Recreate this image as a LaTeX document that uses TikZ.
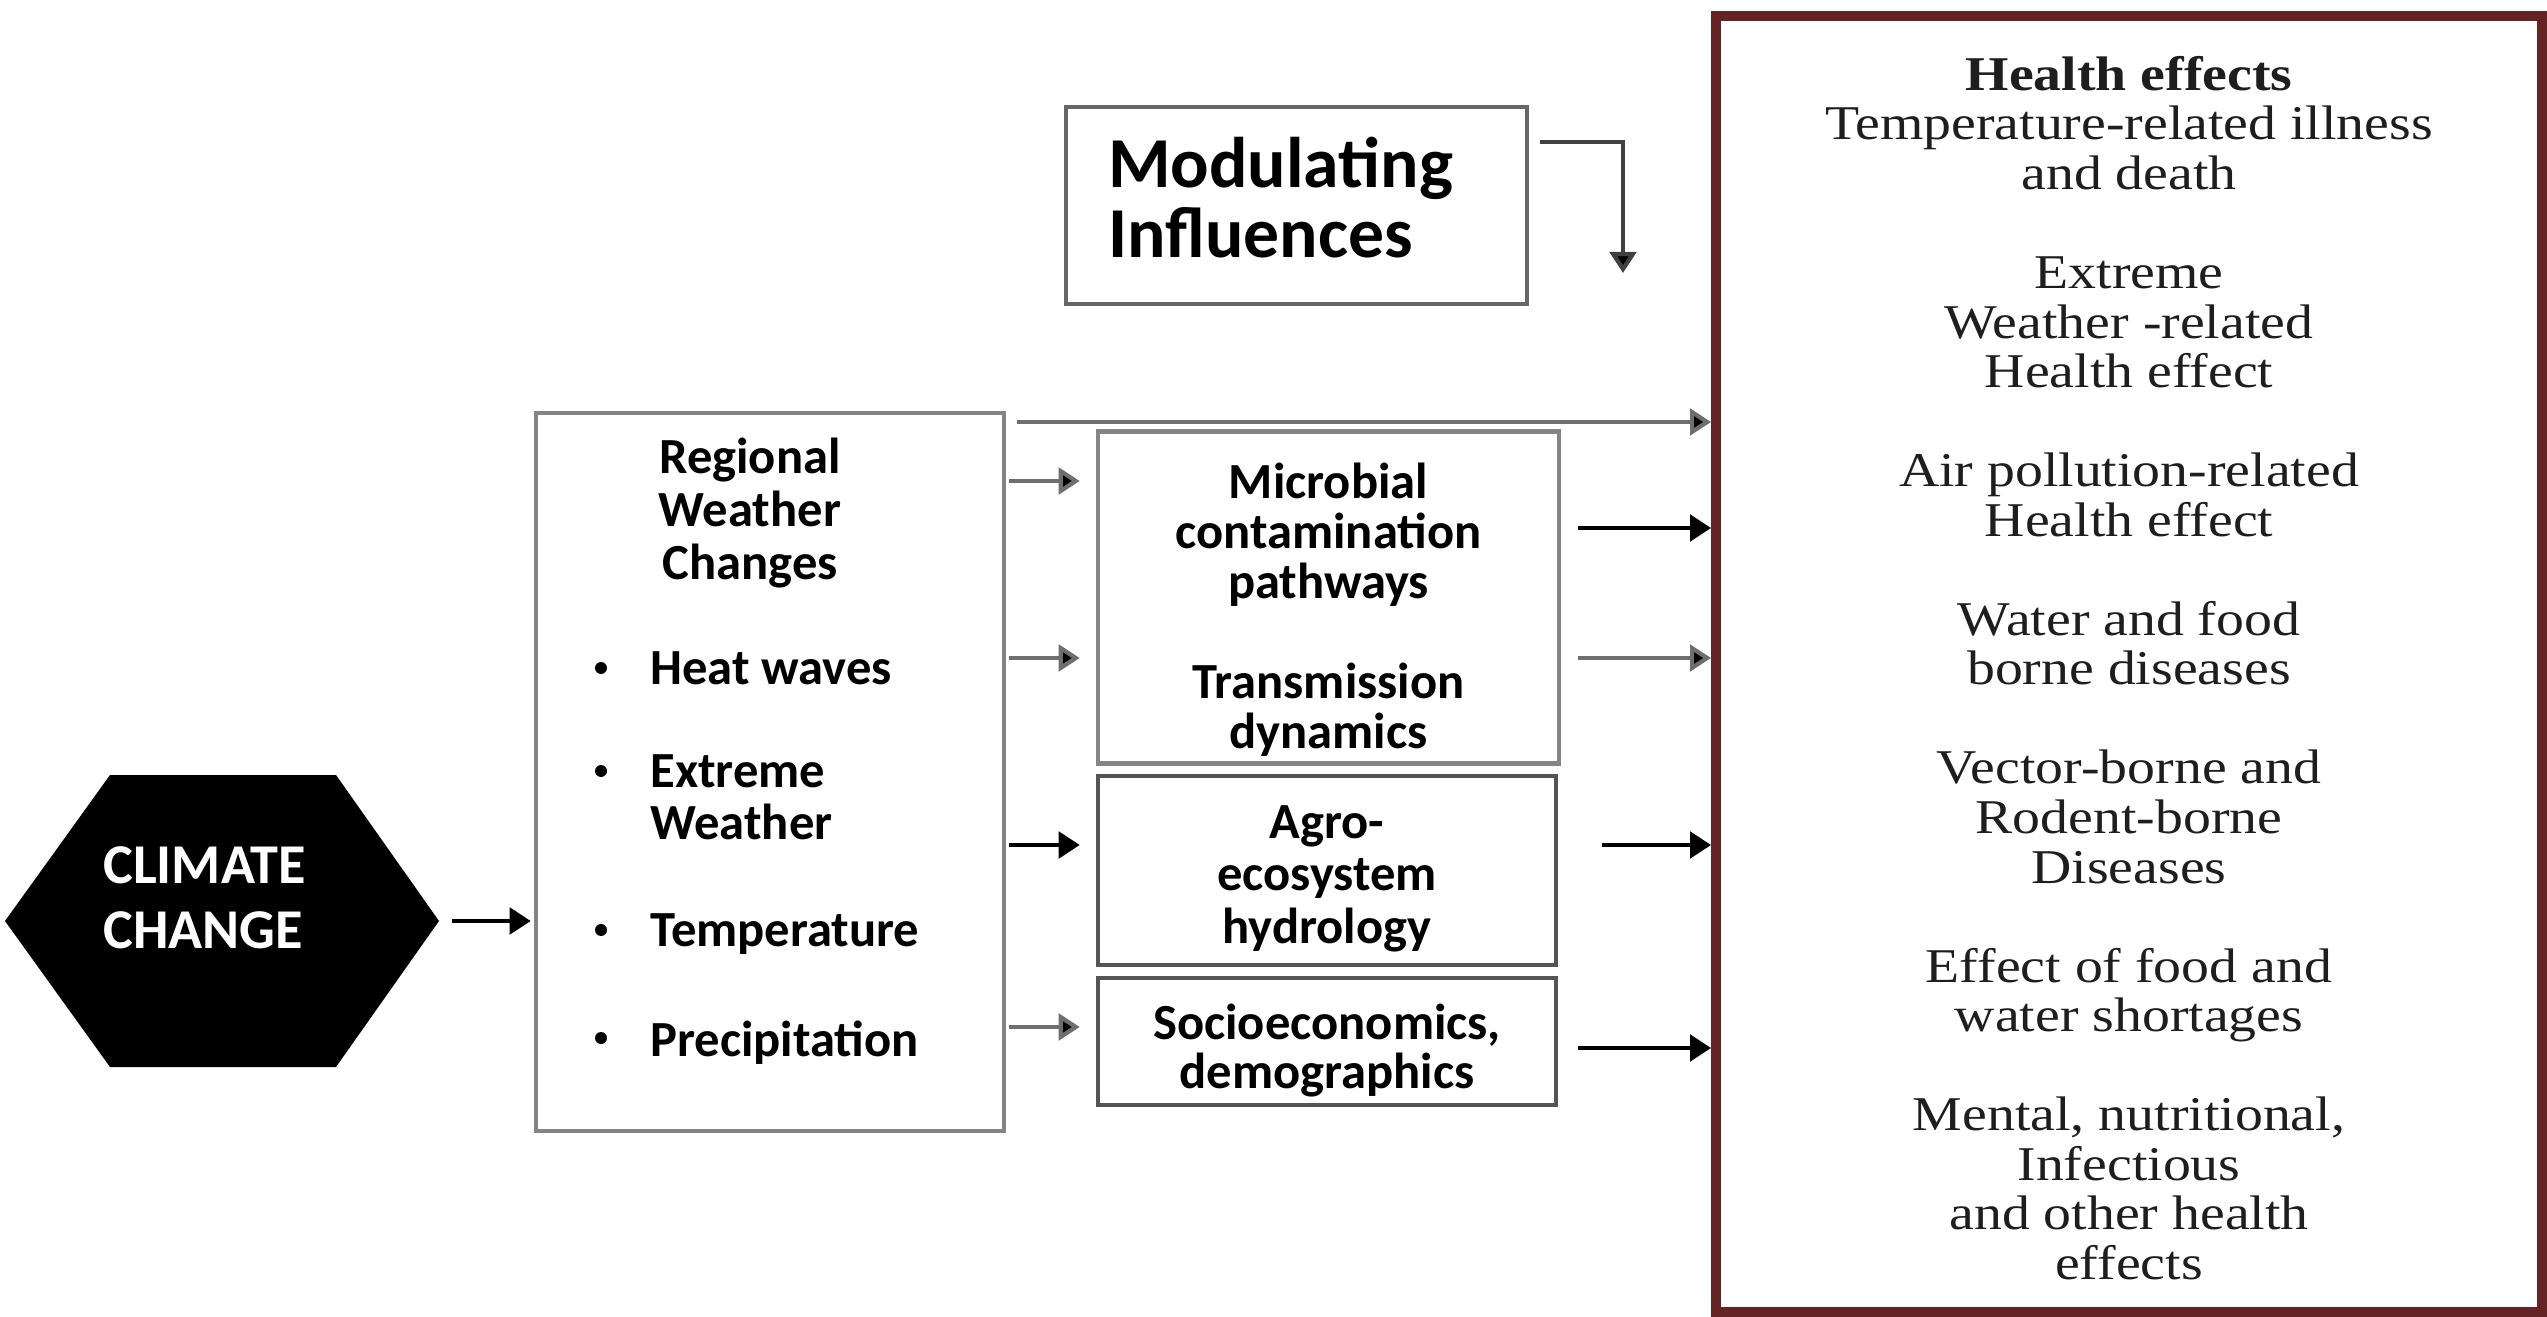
\documentclass[tikz,border=0pt]{standalone}
\usepackage{fontspec}
\usetikzlibrary{arrows.meta,calc}
\newfontfamily\carlito{Carlito}
\newfontfamily\hserif[FakeStretch=1.15]{Liberation Serif}
\definecolor{hred}{HTML}{632423}
\definecolor{bgray}{HTML}{858585}
\definecolor{mgray}{HTML}{666666}
\definecolor{dgray}{HTML}{555555}
\definecolor{agray}{HTML}{6E6E6E}
\definecolor{htext}{HTML}{1E1E1E}
\begin{document}
\begin{tikzpicture}[x=0.02cm,y=-0.02cm,
  sans/.style={font=\carlito\bfseries\fontsize{28.8pt}{29.9pt}\selectfont},
  msans/.style={font=\carlito\bfseries\fontsize{28.8pt}{28.5pt}\selectfont},
  ssans/.style={font=\carlito\bfseries\fontsize{28.8pt}{28pt}\selectfont},
  box/.style={draw=#1,line width=2.6pt,inner sep=0pt,align=center},
  box/.default=bgray,
  arr/.style={line width=2.4pt,draw=#1,-{Triangle[length=12pt,width=15pt,fill=black]}},
  arr/.default=black]
\useasboundingbox (0,0) rectangle (2547,1317);

% climate change hexagon
\fill[black] (5,921) -- (110,775) -- (336,775) -- (439,921) -- (336,1067) -- (110,1067) -- cycle;
\coordinate (hexR) at (439,921);
\node[anchor=west,text=white,align=left,inner sep=0pt,
      font=\carlito\bfseries\fontsize{32pt}{37pt}\selectfont] (cc) at (103,903) {\strut CLIMATE\\CHANGE\strut};

% regional weather changes box
\node[box,minimum width=9.36cm,minimum height=14.36cm] (reg) at (770,772) {};
\node[sans,align=center,inner sep=0pt] (regT) at (750,516) {\strut Regional\\Weather\\Changes\strut};
\node[sans,anchor=west,inner sep=0pt] (b1) at (650,674) {\strut Heat waves\strut};
\node[sans,anchor=west,inner sep=0pt,align=left] (b2) at (650,803) {\strut Extreme\\Weather\strut};
\node[sans,anchor=west,inner sep=0pt] (b3) at (650,936) {\strut Temperature\strut};
\node[sans,anchor=west,inner sep=0pt] (b4) at (650,1046) {\strut Precipitation\strut};
\fill (601,668) circle (6);
\fill (601,771) circle (6);
\fill (601,930) circle (6);
\fill (601,1038) circle (6);

% middle boxes
\node[box,msans,minimum width=9.22cm,minimum height=6.62cm] (mic) at (1328.5,597.5)
  {\rule{0pt}{38.2pt}Microbial\\contamination\\pathways\\~\\Transmission\\dynamics\strut};
\node[box=dgray,sans,minimum width=9.16cm,minimum height=3.78cm] (agro) at (1327,870.5)
  {\rule{0pt}{32.3pt}Agro-\\ecosystem\\hydrology\strut};
\node[box=dgray,ssans,minimum width=9.16cm,minimum height=2.54cm] (soc) at (1327,1041.5)
  {\rule{0pt}{34.4pt}Socioeconomics,\\demographics\strut};

% modulating influences
\node[box=mgray,align=left,inner xsep=0.84cm,text width=7.54cm,minimum height=3.94cm,
      font=\carlito\bfseries\fontsize{40.8pt}{39.8pt}\selectfont] (mod) at (1296.5,205.5)
  {\rule{0pt}{31.3pt}Modulating\\Influences\strut};

% health effects box
\node[draw=hred,line width=5.7pt,minimum width=16.52cm,minimum height=25.92cm,inner sep=0pt,
      align=center,text=htext,font=\hserif\fontsize{27.6pt}{28.2pt}\selectfont] (hb) at (2129,664)
  {\rule{0pt}{32.2pt}\textbf{Health effects}\\Temperature-related illness\\and death\\~\\Extreme\\Weather -related\\Health effect\\~\\Air pollution-related\\Health effect\\~\\Water and food\\borne diseases\\~\\Vector-borne and\\Rodent-borne\\Diseases\\~\\Effect of food and\\water shortages\\~\\Mental, nutritional,\\Infectious\\and other health\\effects\strut};

% level coordinates
\coordinate (yt) at (0,422);
\coordinate (y1) at (0,481);
\coordinate (y2) at (0,658);
\coordinate (y3) at (0,845);
\coordinate (y4) at (0,1027);
\coordinate (z1) at (0,528);
\coordinate (z4) at (0,1048);
\coordinate (ym) at (0,142);
\coordinate (modT) at (1623,273);

% connectors
\draw[arr] ($(hexR)+(13,0)$) -- ($(reg.west |- hexR)+(-3,0)$);
\draw[arr=agray] ($(reg.east |- yt)+(11,0)$) -- (hb.west |- yt);
\draw[arr=agray] ($(reg.east |- y1)+(3,0)$) -- ($(mic.west |- y1)+(-16,0)$);
\draw[arr=agray] ($(reg.east |- y2)+(3,0)$) -- ($(mic.west |- y2)+(-16,0)$);
\draw[arr] ($(reg.east |- y3)+(3,0)$) -- ($(agro.west |- y3)+(-16,0)$);
\draw[arr=agray] ($(reg.east |- y4)+(3,0)$) -- ($(soc.west |- y4)+(-16,0)$);
\draw[arr] ($(mic.east |- z1)+(17,0)$) -- (hb.west |- z1);
\draw[arr=agray] ($(mic.east |- y2)+(17,0)$) -- (hb.west |- y2);
\draw[arr] ($(agro.east |- y3)+(44,0)$) -- (hb.west |- y3);
\draw[arr] ($(soc.east |- z4)+(20,0)$) -- (hb.west |- z4);
\draw[arr=darkgray] ($(mod.east |- ym)+(11,0)$) -| (modT);
\end{tikzpicture}
\end{document}
